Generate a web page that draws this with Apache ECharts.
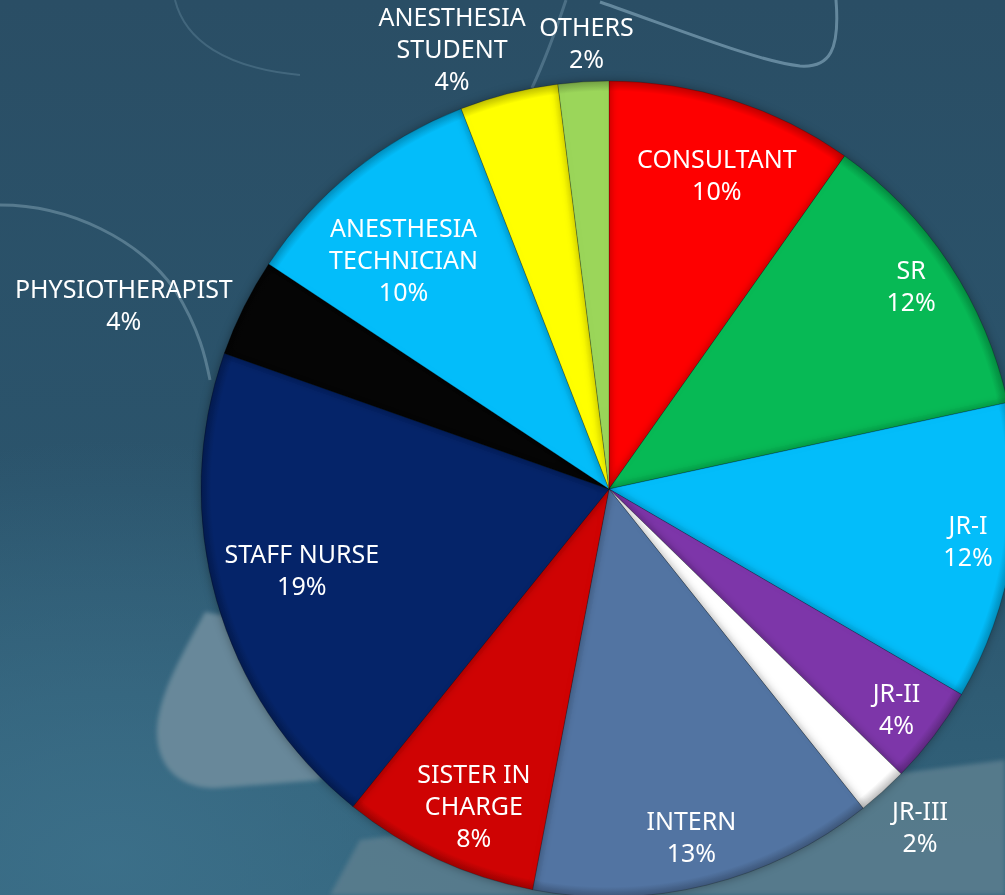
<!DOCTYPE html>
<html>
<head>
<meta charset="utf-8">
<script src="https://cdn.jsdelivr.net/npm/echarts@6/dist/echarts.min.js"></script>
<style>
  html, body { margin: 0; padding: 0; }
  body {
    width: 1005px; height: 895px; overflow: hidden; position: relative;
    background:
      radial-gradient(ellipse 560px 420px at 110px 860px, rgba(60,112,138,0.9), rgba(60,112,138,0) 100%),
      linear-gradient(180deg, #2a4e65 0%, #2b546c 55%, #33647c 100%);
  }
  #bg { position: absolute; left: 0; top: 0; }
  #chart { position: absolute; left: 0; top: 0; width: 1005px; height: 895px; }
</style>
</head>
<body>
<svg id="bg" width="1005" height="895">
  <defs>
    <filter id="soft"><feGaussianBlur stdDeviation="2"/></filter>
  </defs>
  <path d="M205 612 C185 650 160 690 157 728 C155 768 182 790 218 788 L320 780 L360 640 Z"
        fill="#67889a" filter="url(#soft)"/>
  <path d="M360 840 L1005 760 L1005 895 L330 895 Z" fill="#5a7d8e" opacity="0.9" filter="url(#soft)"/>
  <path d="M0 205 C70 205 140 240 175 290 C200 330 206 360 210 380" fill="none"
        stroke="rgba(170,200,215,0.35)" stroke-width="3"/>
  <path d="M600 2 C680 30 760 62 800 66 C830 68 840 50 836 0" fill="none"
        stroke="rgba(140,175,195,0.6)" stroke-width="3"/>
  <path d="M532 88 C545 60 556 30 566 0" fill="none" stroke="rgba(140,175,195,0.35)" stroke-width="3"/>
  <path d="M175 0 C185 40 225 68 300 75" fill="none" stroke="rgba(140,175,195,0.25)" stroke-width="2"/>
</svg>
<div id="chart"></div>
<script>
// share of staff (percent)
var categories = ['CONSULTANT', 'SR', 'JR-I', 'JR-II', 'JR-III', 'INTERN', 'SISTER IN CHARGE',
  'STAFF NURSE', 'PHYSIOTHERAPIST', 'ANESTHESIA TECHNICIAN', 'ANESTHESIA STUDENT', 'OTHERS'];
var shares = [9.8, 11.8, 11.8, 3.9, 2.0, 13.7, 7.8, 19.6, 3.9, 9.8, 3.9, 2.0];
// percentages as printed on the chart
var percentLabels = ['10%', '12%', '12%', '4%', '2%', '13%', '8%', '19%', '4%', '10%', '4%', '2%'];

var colors = ['#fe0000', '#07b955', '#03bdfa', '#7d36a9', '#ffffff', '#5274a2',
  '#cf0303', '#052469', '#050505', '#03bdfa', '#ffff00', '#9bd65a'];

var CX = 609, CY = 489, R = 408;
// label placement: [fraction of radius, angle shift in degrees]
var labelPlace = [[0.81, 1.4], [0.89, -0.2], [0.89, -0.4], [0.89, 0.4], [1.13, -0.3], [0.88, 0.6],
  [0.85, -1.9], [0.78, 0.7], [1.27, -5.9], [0.75, -3.3], [1.14, -5.5], [1.09, 0.7]];

function wrapName(n) {
  if (n.indexOf('ANESTHESIA ') === 0) return n.replace(' ', '\n');
  if (n === 'SISTER IN CHARGE') return 'SISTER IN\nCHARGE';
  return n;
}

function darken(hex, f) {
  var n = parseInt(hex.slice(1), 16);
  var r = Math.round(((n >> 16) & 255) * f), g = Math.round(((n >> 8) & 255) * f), b = Math.round((n & 255) * f);
  return 'rgb(' + r + ',' + g + ',' + b + ')';
}

// slight dark rim, like the bevelled slices of the original
function sliceFill(c) {
  return {
    type: 'radial', x: CX, y: CY, r: R, global: true,
    colorStops: [
      { offset: 0, color: c },
      { offset: 0.975, color: c },
      { offset: 1, color: darken(c, 0.75) }
    ]
  };
}

var total = shares.reduce(function (a, b) { return a + b; }, 0);

var chart = echarts.init(document.getElementById('chart'));
var option = {
  backgroundColor: 'transparent',
  animation: false,
  series: [{
    type: 'pie',
    center: [CX, CY],
    radius: [0, R],
    startAngle: 90,
    clockwise: true,
    avoidLabelOverlap: false,
    itemStyle: {
      borderColor: 'rgba(0,0,0,0.22)',
      borderWidth: 1,
      shadowBlur: 10,
      shadowColor: 'rgba(0,0,0,0.35)'
    },
    label: {
      show: true,
      position: 'inside',
      color: '#ffffff',
      fontFamily: 'Noto Sans',
      fontSize: 25,
      lineHeight: 32,
      formatter: function (p) {
        return wrapName(p.name) + '\n' + percentLabels[p.dataIndex];
      }
    },
    labelLine: { show: false },
    labelLayout: function (p) {
      var i = p.dataIndex;
      var before = 0;
      for (var k = 0; k < i; k++) before += shares[k];
      var ang = ((before + shares[i] / 2) / total * 360 + labelPlace[i][1]) * Math.PI / 180;
      var r = R * labelPlace[i][0];
      return {
        x: CX + r * Math.sin(ang),
        y: CY - r * Math.cos(ang),
        align: 'center',
        verticalAlign: 'middle'
      };
    },
    data: categories.map(function (c, i) {
      return { name: c, value: shares[i], itemStyle: { color: sliceFill(colors[i]) } };
    })
  }]
};
chart.setOption(option);
</script>
</body>
</html>
